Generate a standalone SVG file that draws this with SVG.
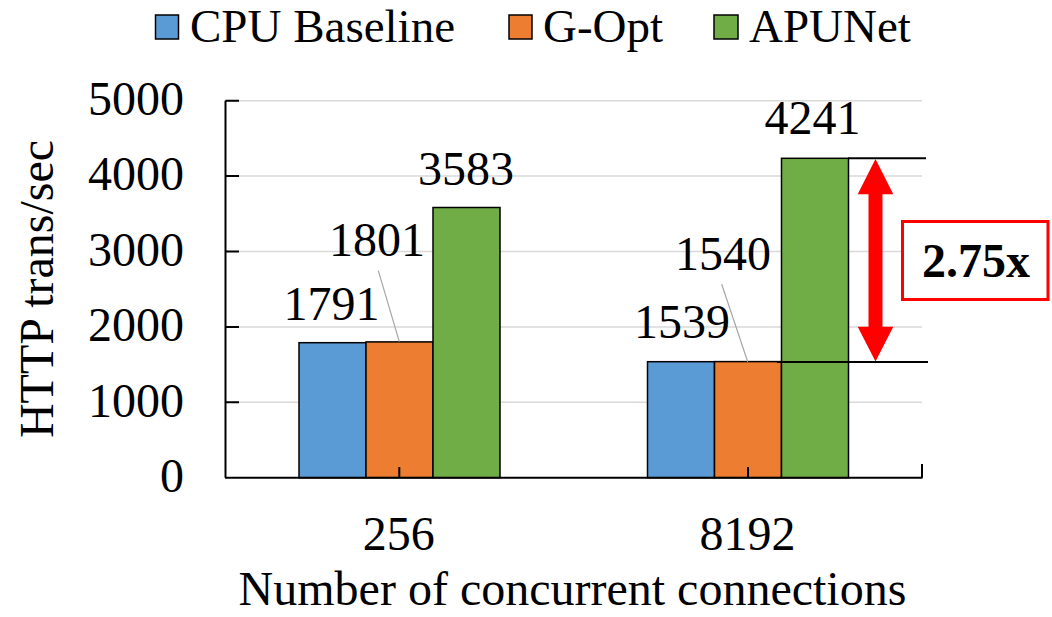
<svg xmlns="http://www.w3.org/2000/svg" width="1052" height="617" viewBox="0 0 1052 617">
<style>
text{font-family:"Liberation Serif","Times New Roman",serif;font-size:48px;fill:#000}
.leg{font-size:47px}
.grid{stroke:#d9d9d9;stroke-width:1.5}
.axis{stroke:#000;stroke-width:2;fill:none}
.bar{stroke:#000;stroke-width:1.5}
.cpu{fill:#5B9BD5}.gopt{fill:#ED7D31}.apu{fill:#70AD47}
.lead{stroke:#a6a6a6;stroke-width:1.2}
.tick{text-anchor:end}
.mid{text-anchor:middle}
</style>
<rect width="1052" height="617" fill="#fff"/>
<g id="legend">
<rect class="bar cpu" x="155.5" y="15" width="23" height="24"/>
<text class="leg" x="190" y="42">CPU Baseline</text>
<rect class="bar gopt" x="509" y="15" width="23" height="24"/>
<text class="leg" x="543" y="42">G-Opt</text>
<rect class="bar apu" x="714" y="15" width="24" height="24"/>
<text class="leg" x="749" y="42">APUNet</text>
</g>
<g id="grid">
<line class="grid" x1="225" y1="100.7" x2="922" y2="100.7"/>
<line class="grid" x1="225" y1="176.1" x2="922" y2="176.1"/>
<line class="grid" x1="225" y1="251.5" x2="922" y2="251.5"/>
<line class="grid" x1="225" y1="326.9" x2="922" y2="326.9"/>
<line class="grid" x1="225" y1="402.3" x2="922" y2="402.3"/>
</g>
<g id="y-axis">
<path class="axis" d="M225.5,100.7V477.7M225.5,100.7H239M225.5,176.1H239M225.5,251.5H239M225.5,326.9H239M225.5,402.3H239"/>
<text class="tick" x="184" y="115">5000</text>
<text class="tick" x="184" y="190.4">4000</text>
<text class="tick" x="184" y="265.8">3000</text>
<text class="tick" x="184" y="341.2">2000</text>
<text class="tick" x="184" y="416.6">1000</text>
<text class="tick" x="184" y="492">0</text>
<text class="mid" transform="translate(53,289) rotate(-90)">HTTP trans/sec</text>
</g>
<g id="bars-256">
<rect class="bar cpu" x="299" y="342.7" width="67" height="135"/>
<rect class="bar gopt" x="366" y="341.9" width="67" height="135.8"/>
<rect class="bar apu" x="433" y="207.5" width="67" height="270.2"/>
<text class="mid" x="331.5" y="320">1791</text>
<text class="mid" x="377" y="255.7">1801</text>
<text class="mid" x="466" y="185">3583</text>
<line class="lead" x1="378.3" y1="270.7" x2="399.3" y2="341.7"/>
</g>
<g id="bars-8192">
<rect class="bar cpu" x="647.5" y="361.7" width="67" height="116"/>
<rect class="bar gopt" x="714.5" y="361.6" width="67" height="116.1"/>
<rect class="bar apu" x="781.5" y="158.3" width="67" height="319.4"/>
<text class="mid" x="682" y="338.3">1539</text>
<text class="mid" x="723" y="270">1540</text>
<text class="mid" x="812.5" y="134">4241</text>
<line class="lead" x1="721.7" y1="284.3" x2="747.7" y2="361.7"/>
</g>
<g id="x-axis">
<path class="axis" d="M225,477.7H922.5M399.3,477.7V467M748,477.7V467M922,477.7V464"/>
<text class="mid" x="398.7" y="550">256</text>
<text class="mid" x="747.5" y="550">8192</text>
<text class="mid" x="572.5" y="605">Number of concurrent connections</text>
</g>
<g id="annotation">
<line stroke="#000" stroke-width="2" x1="848" y1="158.3" x2="926" y2="158.3"/>
<line stroke="#000" stroke-width="2" x1="777" y1="362" x2="928" y2="362"/>
<polygon fill="#ff0000" points="875.5,159 893.3,194.3 882.5,194.3 882.5,326.7 893.3,326.7 875.5,361.5 857.7,326.7 868.5,326.7 868.5,194.3 857.7,194.3"/>
<rect x="902.5" y="221.5" width="145.5" height="78" fill="#fff" stroke="#ff0000" stroke-width="3"/>
<text class="mid" x="976" y="277" font-weight="bold">2.75x</text>
</g>
</svg>
